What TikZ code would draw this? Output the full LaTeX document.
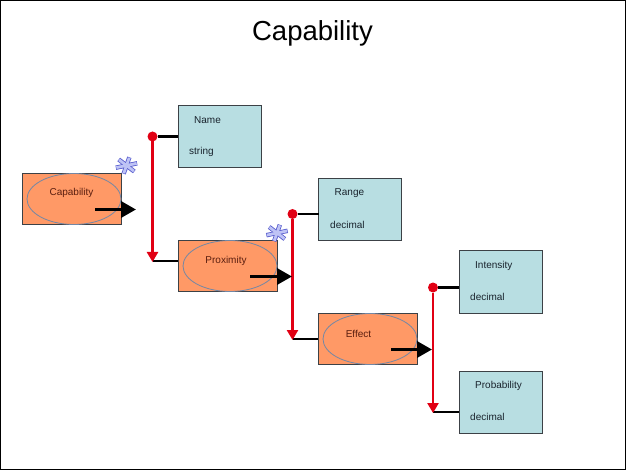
\documentclass[tikz,border=0pt]{standalone}
\usepackage{fontspec}
\setmainfont{Liberation Sans}
\usetikzlibrary{arrows.meta,shapes.geometric}
\definecolor{orangebox}{RGB}{255,153,102}
\definecolor{tealbox}{RGB}{184,222,226}
\definecolor{boxedge}{RGB}{60,65,70}
\definecolor{ovaledge}{RGB}{115,135,165}
\definecolor{linkred}{RGB}{225,0,20}
\definecolor{orangetext}{RGB}{90,30,15}
\definecolor{tealtext}{RGB}{25,35,45}
\definecolor{starfill}{RGB}{190,195,245}
\definecolor{staredge}{RGB}{85,90,205}
\tikzset{
  x=1pt,y=-1pt,
  classbox/.style={draw=boxedge,line width=1pt,fill=orangebox,minimum width=99pt,minimum height=51pt,inner sep=0pt,outer sep=0pt},
  attrbox/.style={draw=boxedge,line width=1pt,fill=tealbox,minimum width=83pt,minimum height=62pt,inner sep=0pt,outer sep=0pt},
  oval/.style={ellipse,draw=ovaledge,line width=0.8pt,minimum width=94pt,minimum height=51pt,inner sep=0pt,outer sep=0pt},
  classlabel/.style={font=\fontsize{10}{12}\selectfont,text=orangetext,inner sep=0pt},
  attrlabel/.style={font=\fontsize{10}{12}\selectfont,text=tealtext,inner sep=0pt,anchor=west},
  redlink/.style={draw=linkred,line width=2.6pt,-{Triangle[length=10pt,width=11pt]},shorten >=-1pt},
  dotnode/.style={circle,fill=linkred,minimum size=10pt,inner sep=0pt,outer sep=0pt},
  stub/.style={draw=black,line width=2.2pt},
  exit/.style={draw=black,line width=3.4pt,-{Triangle[length=15pt,width=16pt]}},
}
\newcommand{\starmark}[2]{%
  \foreach \a in {75,135,195,255,315,15}
    \draw[staredge,line width=4.4pt] (#1,#2) -- ++({11*cos(\a)},{-8.5*sin(\a)});
  \foreach \a in {75,135,195,255,315,15}
    \draw[starfill,line width=2.8pt] (#1,#2) -- ++({10.5*cos(\a)},{-8*sin(\a)});
}
\begin{document}
\begin{tikzpicture}
\useasboundingbox (0,0) rectangle (626,470);
\draw[black,line width=1.4pt] (0.7,0.7) rectangle (625.3,469.3);
\node[font=\fontsize{27.5}{32}\selectfont,text=black,inner sep=0pt] (title) at (312.5,33.5) {Capability};

\node[attrbox] (name) at (219.5,136.5) {};
\node[attrbox] (range) at (360,209.5) {};
\node[attrbox] (intensity) at (500.5,282) {};
\node[attrbox] (probability) at (500.5,402) {};
\node[classbox] (capbox) at (71.5,199) {};
\node[classbox] (proxbox) at (227.5,266) {};
\node[classbox] (effbox) at (367.5,339) {};
\node[oval] (capoval) at (74,199) {};
\node[oval] (proxoval) at (230,266) {};
\node[oval] (effoval) at (370,339) {};

\node[classlabel] (caplabel) at (71.5,193) {Capability};
\node[classlabel] (proxlabel) at (226,260.5) {Proximity};
\node[classlabel] (efflabel) at (358.5,333.5) {Effect};
\node[attrlabel] (namelabel) at (194,120) {Name};
\node[attrlabel] (stringlabel) at (189,152) {string};
\node[attrlabel] (rangelabel) at (334.5,193) {Range};
\node[attrlabel] (rangetype) at (330,225) {decimal};
\node[attrlabel] (intlabel) at (475,266) {Intensity};
\node[attrlabel] (inttype) at (470,297) {decimal};
\node[attrlabel] (problabel) at (475,386) {Probability};
\node[attrlabel] (probtype) at (470,417) {decimal};

\node[dotnode] (dotA) at (152.5,136.5) {};
\node[dotnode] (dotB) at (292.5,214) {};
\node[dotnode] (dotC) at (433,287.5) {};
\coordinate (endA) at (152.5,261);
\coordinate (endB) at (292.5,339);
\coordinate (endC) at (433,412);
\coordinate (startA) at (95,209.5);
\coordinate (startB) at (250,276.5);
\coordinate (startC) at (391,349.5);
\coordinate (tipA) at (136,209.5);
\coordinate (tipB) at (292,276.5);
\coordinate (tipC) at (432,349.5);

\draw[stub] (dotA) -- (name.west |- dotA);
\draw[stub] (endA) -- (proxbox.west |- endA);
\draw[stub] (dotB) -- (range.west |- dotB);
\draw[stub] (endB) -- (effbox.west |- endB);
\draw[stub] (dotC) -- (intensity.west |- dotC);
\draw[stub] (endC) -- (probability.west |- endC);
\draw[redlink] (dotA) -- (endA);
\draw[redlink] (dotB) -- (endB);
\draw[redlink] (dotC) -- (endC);
\draw[exit] (startA) -- (tipA);
\draw[exit] (startB) -- (tipB);
\draw[exit] (startC) -- (tipC);
\starmark{126.5}{165.5}
\starmark{277}{233}
\end{tikzpicture}
\end{document}
